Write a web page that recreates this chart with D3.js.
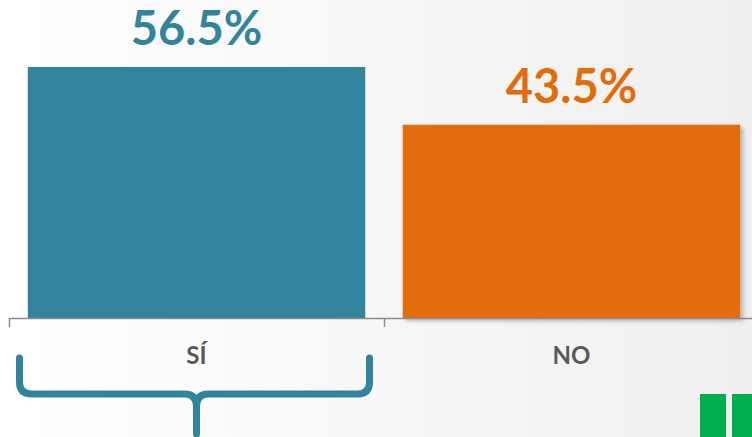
<!DOCTYPE html>
<html>
<head>
<meta charset="utf-8">
<script src="https://cdn.jsdelivr.net/npm/d3@7"></script>
<style>
  body { margin: 0; padding: 0; overflow: hidden; }
  svg { display: block; }
</style>
</head>
<body>
<div id="chart"></div>
<script>
var categories = ["SÍ", "NO"];
var values = [56.5, 43.5];
var labels = ["56.5%", "43.5%"];
var colors = ["#31849b", "#e36c0a"];

var width = 752, height = 437;
var baseY = 318;

var svg = d3.select("#chart")
  .append("svg")
  .attr("width", width)
  .attr("height", height);

var defs = svg.append("defs");
var grad = defs.append("linearGradient")
  .attr("id", "bg")
  .attr("x1", "0%").attr("y1", "0%")
  .attr("x2", "100%").attr("y2", "0%");
grad.append("stop").attr("offset", "0%").attr("stop-color", "#ffffff");
grad.append("stop").attr("offset", "100%").attr("stop-color", "#efefef");

var shadow = defs.append("filter")
  .attr("id", "shadow")
  .attr("x", "-5%").attr("y", "-5%")
  .attr("width", "115%").attr("height", "115%");
shadow.append("feDropShadow")
  .attr("dx", 3).attr("dy", 3)
  .attr("stdDeviation", 2)
  .attr("flood-color", "#000")
  .attr("flood-opacity", 0.25);

svg.append("rect")
  .attr("width", width)
  .attr("height", height)
  .attr("fill", "url(#bg)");
svg.append("rect")
  .attr("width", 42)
  .attr("height", height)
  .attr("fill", "#ffffff");

var x = d3.scaleBand()
  .domain(categories)
  .range([9, 759])
  .padding(0);

var y = d3.scaleLinear()
  .domain([0, 70])
  .range([baseY, 7]);

var barW = x.bandwidth() * 0.9;

// Bars
svg.selectAll(".bar")
  .data(categories)
  .enter()
  .append("rect")
    .attr("class", "bar")
    .attr("x", function(d) { return x(d) + (x.bandwidth() - barW) / 2; })
    .attr("width", barW)
    .attr("y", function(d, i) { return y(values[i]); })
    .attr("height", function(d, i) { return baseY - y(values[i]); })
    .attr("fill", function(d, i) { return colors[i]; })
    .attr("filter", function(d, i) { return i == 1 ? "url(#shadow)" : null; });

// Axis line + ticks
svg.append("line")
  .attr("x1", x.range()[0]).attr("x2", width)
  .attr("y1", baseY + 0.5).attr("y2", baseY + 0.5)
  .attr("stroke", "#8c8c8c")
  .attr("stroke-width", 1.5);

svg.selectAll(".tick")
  .data(categories)
  .enter()
  .append("line")
    .attr("class", "tick")
    .attr("x1", function(d) { return x(d) + 0.5; })
    .attr("x2", function(d) { return x(d) + 0.5; })
    .attr("y1", baseY)
    .attr("y2", baseY + 9)
    .attr("stroke", "#8c8c8c")
    .attr("stroke-width", 1.5);

// Value labels
svg.selectAll(".val")
  .data(categories)
  .enter()
  .append("text")
    .attr("class", "val")
    .attr("x", function(d) { return x(d) + x.bandwidth() / 2; })
    .attr("y", function(d, i) { return y(values[i]) - 22; })
    .attr("text-anchor", "middle")
    .style("font-family", "Lato, 'Open Sans', sans-serif")
    .style("font-weight", "bold")
    .style("font-size", "47px")
    .attr("fill", function(d, i) { return colors[i]; })
    .text(function(d, i) { return labels[i]; });

// Category labels
svg.selectAll(".cat")
  .data(categories)
  .enter()
  .append("text")
    .attr("class", "cat")
    .attr("x", function(d) { return x(d) + x.bandwidth() / 2; })
    .attr("y", 364)
    .attr("text-anchor", "middle")
    .style("font-family", "Lato, 'Open Sans', sans-serif")
    .style("font-weight", "bold")
    .style("font-size", "24px")
    .attr("fill", "#595959")
    .text(function(d) { return d; });

// Brace under SÍ
var cx = x(categories[0]) + x.bandwidth() / 2;
var bl = cx - 177, br = cx + 173, bTop = 358, bMid = 394;
var brace = "M" + bl + "," + bTop +
  " L" + bl + "," + (bMid - 12) +
  " Q" + bl + "," + bMid + " " + (bl + 12) + "," + bMid +
  " L" + (cx - 12) + "," + bMid +
  " Q" + cx + "," + bMid + " " + cx + "," + (bMid + 12) +
  " L" + cx + "," + 434 +
  " M" + cx + "," + (bMid + 12) +
  " Q" + cx + "," + bMid + " " + (cx + 12) + "," + bMid +
  " L" + (br - 12) + "," + bMid +
  " Q" + br + "," + bMid + " " + br + "," + (bMid - 12) +
  " L" + br + "," + bTop;
svg.append("path")
  .attr("d", brace)
  .attr("fill", "none")
  .attr("stroke", colors[0])
  .attr("stroke-width", 7)
  .attr("stroke-linecap", "round")
  .attr("stroke-linejoin", "round");

// Green marks bottom right
svg.append("rect")
  .attr("x", 700).attr("y", 394)
  .attr("width", 26).attr("height", 43)
  .attr("fill", "#00b050");
svg.append("rect")
  .attr("x", 732).attr("y", 394)
  .attr("width", 20).attr("height", 43)
  .attr("fill", "#00b050");
</script>
</body>
</html>
